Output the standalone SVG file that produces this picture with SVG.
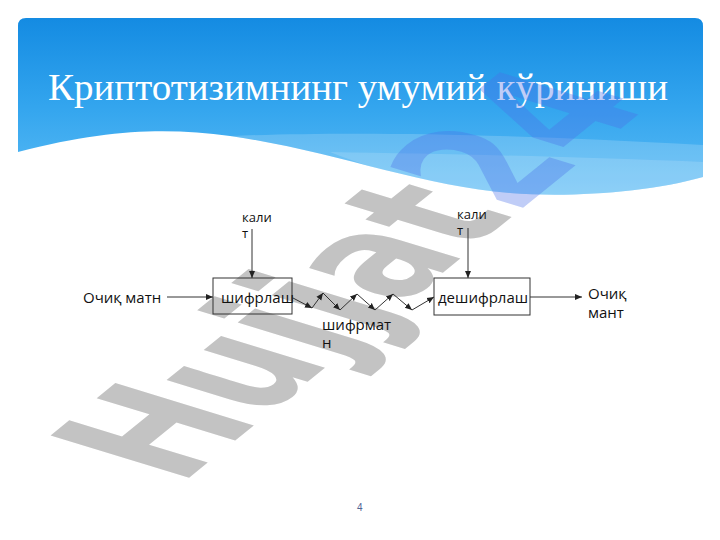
<svg xmlns="http://www.w3.org/2000/svg" width="720" height="540" viewBox="0 0 720 540">
<style>
.t{font-family:"Open Sans","Noto Sans","DejaVu Sans",sans-serif;fill:#111;}
.ln{stroke:#333;stroke-width:1;fill:none;}
.bx{stroke:#333;stroke-width:1;fill:none;}
</style>
<defs>
<linearGradient id="hg" x1="0" y1="0" x2="0" y2="1">
<stop offset="0" stop-color="#148be2"/>
<stop offset="0.5" stop-color="#33a5ee"/>
<stop offset="1" stop-color="#5cbcf5"/>
</linearGradient>
<marker id="ah" markerUnits="userSpaceOnUse" markerWidth="8" markerHeight="8" viewBox="0 0 8 8" refX="7" refY="4" orient="auto">
<path d="M0,1 L7,4 L0,7 Z" fill="#222"/>
</marker>
</defs>
<rect width="720" height="540" fill="#fff"/>
<g id="header">
<path d="M18,26 Q18,18 26,18 H695 Q703,18 703,26 V177 C650,192 570,198 510,193 C420,186 330,150 230,136 C170,128 110,128 18,152 Z" fill="url(#hg)"/>
<path d="M230,136 C330,132 480,132 703,145 V177 C650,192 570,198 510,193 C420,186 330,150 230,136 Z" fill="#ffffff" opacity="0.18"/>
<path d="M330,152 C440,154 560,156 703,162 V177 C650,192 570,198 510,193 C440,188 380,172 330,152 Z" fill="#ffffff" opacity="0.15"/>
<text x="48" y="100" textLength="620" lengthAdjust="spacingAndGlyphs" font-family="'Liberation Serif','Times New Roman',serif" font-size="37" fill="#ffffff">Криптотизимнинг умумий кўриниши</text>
</g>
<g id="watermark">
<text transform="matrix(0.99,-0.80,1.90,0.58,180,485)" font-family="'DejaVu Sans',Verdana,sans-serif" font-weight="bold" font-size="100"><tspan fill="#c3c3c3">Hujjat</tspan><tspan fill="#4a6fe8" fill-opacity="0.35">24</tspan></text>
</g>
<g id="connectors">
<line class="ln" x1="167" y1="297" x2="213" y2="297" marker-end="url(#ah)"/>
<line class="ln" x1="252" y1="229" x2="252" y2="278" marker-end="url(#ah)"/>
<line class="ln" x1="468" y1="228" x2="468" y2="278" marker-end="url(#ah)"/>
<line class="ln" x1="293" y1="298" x2="312" y2="308" marker-end="url(#ah)"/>
<line class="ln" x1="312" y1="308" x2="323" y2="293" marker-end="url(#ah)"/>
<line class="ln" x1="323" y1="293" x2="340" y2="310" marker-end="url(#ah)"/>
<line class="ln" x1="340" y1="310" x2="357" y2="294" marker-end="url(#ah)"/>
<line class="ln" x1="357" y1="294" x2="375" y2="310" marker-end="url(#ah)"/>
<line class="ln" x1="375" y1="310" x2="393" y2="294" marker-end="url(#ah)"/>
<line class="ln" x1="393" y1="294" x2="412" y2="310" marker-end="url(#ah)"/>
<line class="ln" x1="412" y1="310" x2="434" y2="297" marker-end="url(#ah)"/>
<line class="ln" x1="530" y1="297" x2="582" y2="297" marker-end="url(#ah)"/>
</g>
<g id="plaintext-in">
<text class="t" x="83" y="303" font-size="15">Очиқ матн</text>
</g>
<g id="key1">
<text class="t" x="242" y="222" font-size="13">кали</text>
<text class="t" x="242" y="238" font-size="13">т</text>
</g>
<g id="encrypt">
<rect class="bx" x="213" y="278" width="79" height="36"/>
<text class="t" x="221" y="303" font-size="15">шифрлаш</text>
</g>
<g id="ciphertext">
<text class="t" x="322" y="330" font-size="15">шифрмат</text>
<text class="t" x="322" y="348" font-size="15">н</text>
</g>
<g id="key2">
<text class="t" x="457" y="219" font-size="13">кали</text>
<text class="t" x="457" y="235" font-size="13">т</text>
</g>
<g id="decrypt">
<rect class="bx" x="434" y="278" width="96" height="37"/>
<text class="t" x="438" y="303" font-size="15">дешифрлаш</text>
</g>
<g id="plaintext-out">
<text class="t" x="588" y="299" font-size="15">Очиқ</text>
<text class="t" x="588" y="318" font-size="15">мант</text>
</g>
<text x="357" y="511" font-family="'Liberation Sans',Arial,sans-serif" font-size="10" fill="#4f6494">4</text>
</svg>
